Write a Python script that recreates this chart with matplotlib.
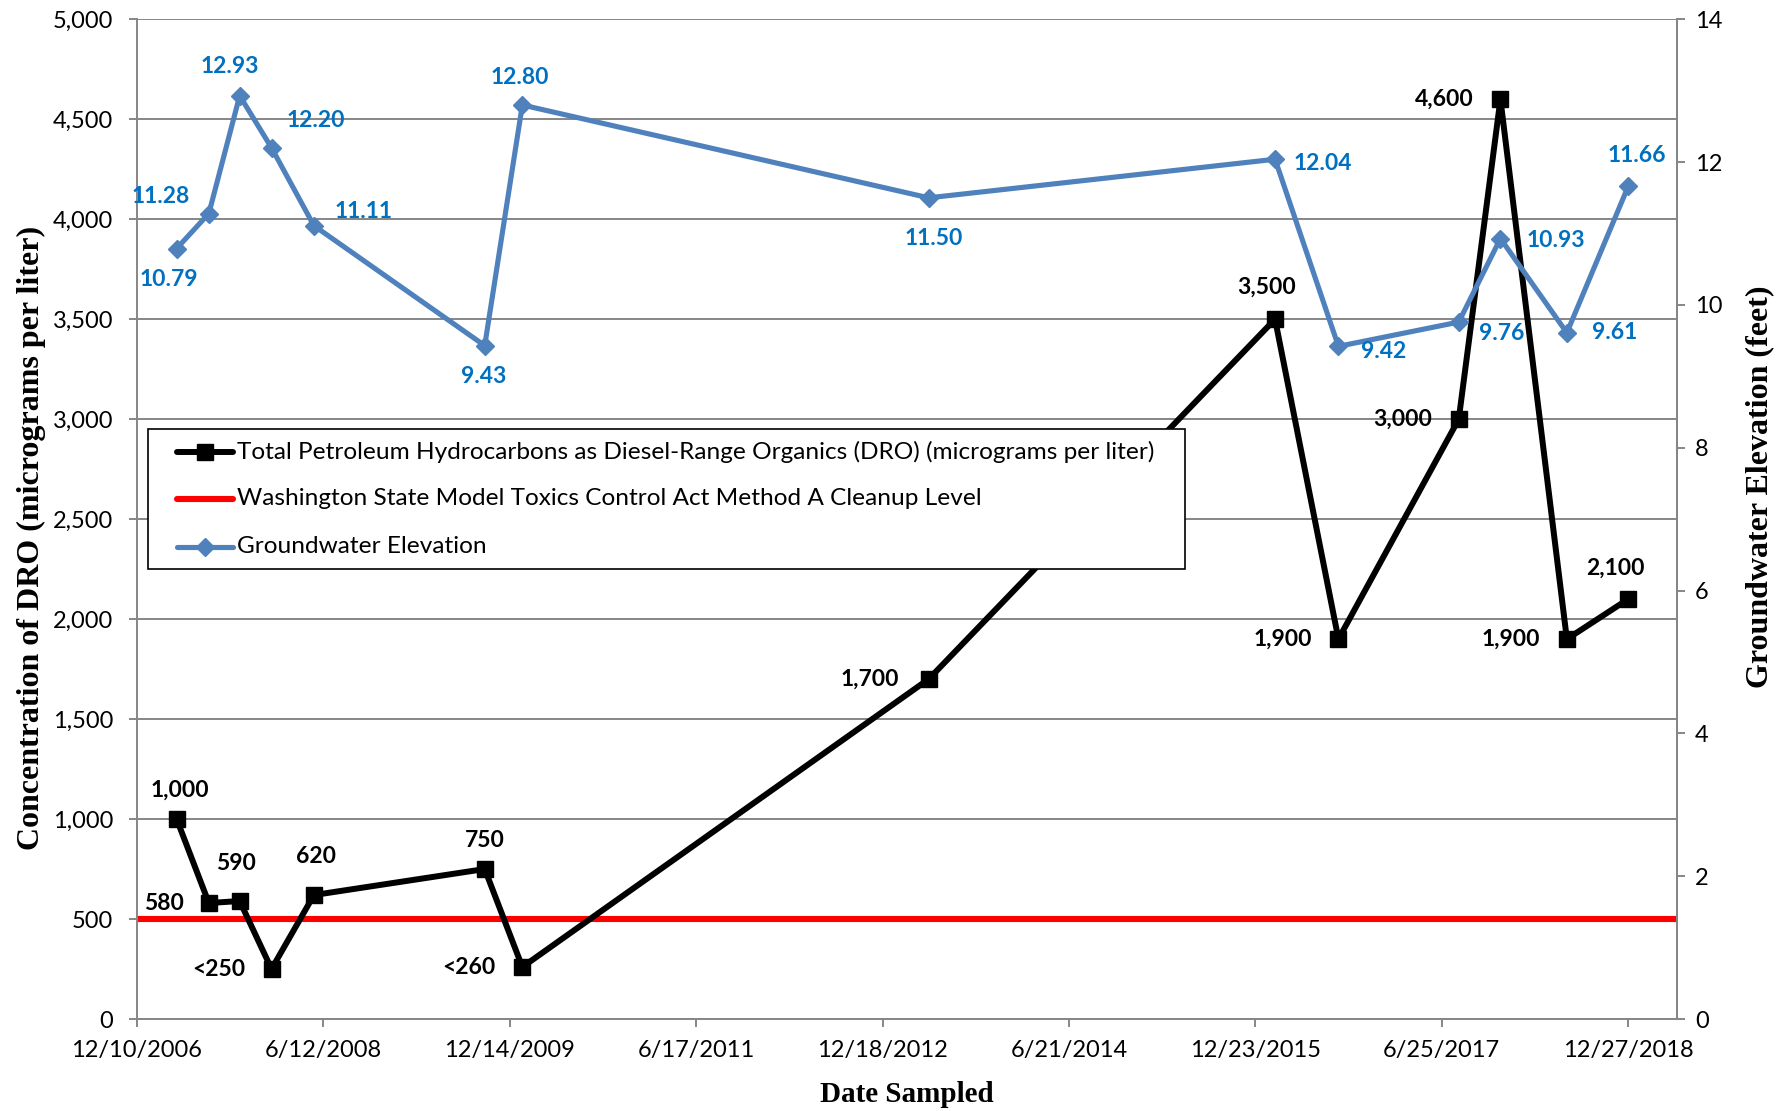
import datetime as dt
import matplotlib
matplotlib.use("Agg")
import matplotlib.pyplot as plt
import matplotlib.dates as mdates
from matplotlib.patches import Rectangle
from matplotlib.ticker import FuncFormatter, MultipleLocator

# ---------------- data ----------------
sample_dates = ["2007-04-06", "2007-07-10", "2007-10-09", "2008-01-11", "2008-05-15",
                "2009-10-01", "2010-01-20", "2013-05-03", "2016-02-19", "2016-08-24",
                "2017-08-14", "2017-12-15", "2018-06-29", "2018-12-27"]
dro = [1000, 580, 590, 250, 620, 750, 260, 1700, 3500, 1900, 3000, 4600, 1900, 2100]
dro_labels = ["1,000", "580", "590", "<250", "620", "750", "<260", "1,700",
              "3,500", "1,900", "3,000", "4,600", "1,900", "2,100"]
gw_elev = [10.79, 11.28, 12.93, 12.20, 11.11, 9.43, 12.80, 11.50, 12.04, 9.42,
           9.76, 10.93, 9.61, 11.66]
cleanup_level = 500

axis_start = "2006-12-10"
axis_end = "2019-05-20"
tick_step_days = 550

# label placement (points offset, alignment)
dro_lab_pos = [(2, 21, "center"), (-18, 0, "right"), (-3, 27, "center"), (-19, 0, "right"),
               (1.5, 28, "center"), (0, 20.5, "center"), (-19, 0, "right"), (-21, 0, "right"),
               (-6, 23, "center"), (-19, 0, "right"), (-19.5, 0, "right"), (-19.5, 0, "right"),
               (-19, 0, "right"), (-9, 22, "center")]
gw_lab_pos = [(-5.5, -22, "center"), (-14, 12, "right"), (-7, 21, "center"), (11, 20, "left"),
              (15, 10, "left"), (-1, -22, "center"), (-2, 20, "center"), (3.5, -29.5, "center"),
              (13, -3, "left"), (16.5, -4, "left"), (14.5, -8, "left"), (19, -1.5, "left"),
              (18, 0, "left"), (6, 22, "center")]

# ---------------- plot ----------------
dates = [dt.datetime.strptime(d, "%Y-%m-%d") for d in sample_dates]
x0 = dt.datetime.strptime(axis_start, "%Y-%m-%d")
x1 = dt.datetime.strptime(axis_end, "%Y-%m-%d")

sans = "Lato"
serif = "Liberation Serif"
grid_col = "#868686"
blue = "#4F81BD"
lab_blue = "#0070C0"

dro_style = dict(color="black", lw=4.3, marker="s", ms=12, mew=1)
limit_style = dict(color="#FF0000", lw=4.4)
gw_style = dict(color=blue, lw=3.7, marker="D", ms=9.5, mew=1)

fig = plt.figure(figsize=(17.79, 11.11), dpi=100)
ax = fig.add_axes([137 / 1779, 1 - 1019 / 1111, 1540 / 1779, 999.7 / 1111])
ax2 = ax.twinx()

ax.axhline(cleanup_level, zorder=2, **limit_style)
ax.plot(dates, dro, zorder=3, **dro_style)
ax2.plot(dates, gw_elev, zorder=3, **gw_style)

for d, v, t, (dx, dy, ha) in zip(dates, dro, dro_labels, dro_lab_pos):
    ax.annotate(t, (d, v), xytext=(dx, dy), textcoords="offset points", ha=ha, va="center",
                fontsize=16.5, fontweight="bold", family=sans, color="black", zorder=5)
for d, v, (dx, dy, ha) in zip(dates, gw_elev, gw_lab_pos):
    ax2.annotate(f"{v:.2f}", (d, v), xytext=(dx, dy), textcoords="offset points", ha=ha, va="center",
                 fontsize=16.5, fontweight="bold", family=sans, color=lab_blue, zorder=5)

ax.set_xlim(x0, x1)
ax.set_ylim(0, 5000)
ax2.set_ylim(0, 14)
ax.yaxis.set_major_locator(MultipleLocator(500))
ax2.yaxis.set_major_locator(MultipleLocator(2))
ax.yaxis.set_major_formatter(FuncFormatter(lambda v, p: f"{int(v):,}"))

start_num = mdates.date2num(x0)
ax.set_xticks([start_num + i * tick_step_days for i in range(9)])
ax.xaxis.set_major_formatter(FuncFormatter(
    lambda v, p: "{0.month}/{0.day}/{0.year}".format(mdates.num2date(v))))

ax.yaxis.grid(True, color=grid_col, lw=1.4)
ax.set_axisbelow(True)

for a in (ax, ax2):
    a.spines["top"].set_visible(False)
    for s in a.spines.values():
        s.set_color(grid_col)
        s.set_linewidth(1.4)
ax2.spines["left"].set_visible(False)
ax2.spines["bottom"].set_visible(False)

ax.tick_params(axis="both", colors=grid_col, length=6, width=1.4, labelcolor="black",
               labelsize=17)
ax.tick_params(axis="y", pad=11)
ax.tick_params(axis="x", pad=9)
ax2.tick_params(axis="y", colors=grid_col, length=6, width=1.4, labelcolor="black",
                labelsize=17, pad=7)
for lab in ax.get_xticklabels() + ax.get_yticklabels() + ax2.get_yticklabels():
    lab.set_family(sans)

ax.set_ylabel("Concentration of DRO (micrograms per liter)", family=serif,
              fontweight="bold", fontsize=23)
ax.yaxis.label.set_verticalalignment("center")
ax.yaxis.set_label_coords(-0.0684, 0.481)
ax2.set_ylabel("Groundwater Elevation (feet)", family=serif, fontweight="bold",
               fontsize=23, rotation=90)
ax2.yaxis.label.set_verticalalignment("center")
ax2.yaxis.set_label_coords(1.0539, 0.5325)
ax.set_xlabel("Date Sampled", family=serif, fontweight="bold", fontsize=21)
ax.xaxis.label.set_verticalalignment("center")
ax.xaxis.set_label_coords(0.5, -0.076)

# legend, laid out by hand in axes fractions
legend_labels = ["Total Petroleum Hydrocarbons as Diesel-Range Organics (DRO) (micrograms per liter)",
                 "Washington State Model Toxics Control Act Method A Cleanup Level",
                 "Groundwater Elevation"]
legend_styles = [dro_style, limit_style, gw_style]
ax2.add_patch(Rectangle((0.0073, 0.4498), 0.6732, 0.1404, transform=ax2.transAxes,
                        facecolor="white", edgecolor="black", lw=1.2, zorder=9))
row_y = [0.5669, 0.5202, 0.4725]
hx0, hx1, tx = 0.0258, 0.0621, 0.0647
for lab, sty, y in zip(legend_labels, legend_styles, row_y):
    ax2.plot([hx0, (hx0 + hx1) / 2, hx1], [y, y, y], transform=ax2.transAxes,
             markevery=[1], solid_capstyle="round", zorder=10, **sty)
    ax2.text(tx, y, lab, transform=ax2.transAxes, ha="left", va="center",
             family=sans, fontsize=17.6, zorder=10)
ax2.set_ylim(0, 14)

fig.savefig("out.png", dpi=100)
